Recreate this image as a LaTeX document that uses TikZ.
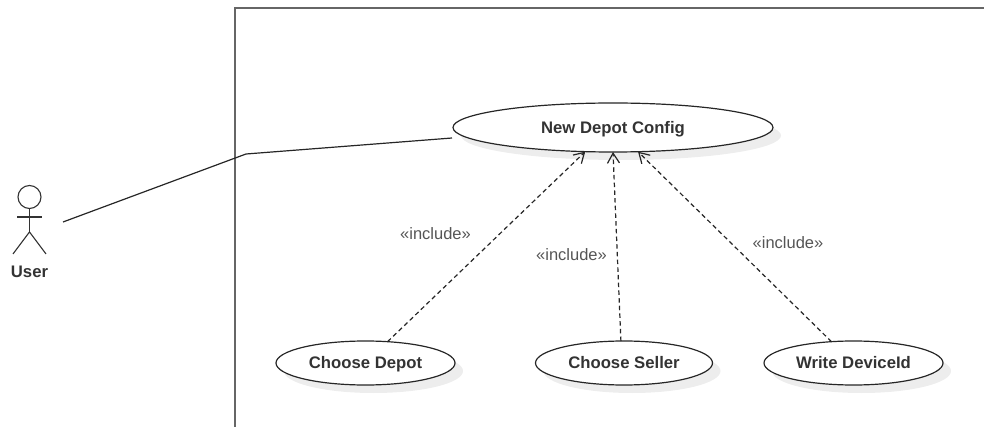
\documentclass[tikz,border=0pt]{standalone}
\usepackage{fontspec}
\setmainfont{Liberation Sans}
\usetikzlibrary{shapes.geometric,arrows.meta,shadows}
\definecolor{txt}{HTML}{333333}
\definecolor{lbl}{HTML}{555555}
\definecolor{shade}{HTML}{EDEDED}
\tikzset{
  usecase/.style={ellipse,draw=black!85,line width=1.2pt,fill=white,inner sep=0pt,outer sep=0pt,
    text=txt,font=\fontsize{16.7}{18}\selectfont\bfseries,text height=14pt,text depth=2.5pt,
    general shadow={shadow xshift=8pt,shadow yshift=-8pt,fill=shade,draw=none}},
  incl/.style={draw=black!85,line width=1.2pt,dash pattern=on 4.5pt off 3.2pt,
    -{Straight Barb[length=10pt,width=12pt,line width=1.2pt]}},
  assoc/.style={draw=black!85,line width=1.2pt},
  lab/.style={text=lbl,font=\fontsize{16.5}{18}\selectfont,inner sep=0pt},
  actorline/.style={draw=black!80,line width=1.1pt},
  frameline/.style={draw=black!60,line width=1.5pt}
}
\begin{document}
\begin{tikzpicture}[x=1pt,y=-1pt]
\useasboundingbox (0,0) rectangle (984,427);
\draw[frameline] (984,8) -- (235,8) -- (235,427);
\coordinate (bend) at (246,154);
\coordinate (actorhand) at (63,222);
\coordinate (assocend) at (452,138);
\node[usecase,minimum width=320pt,minimum height=49pt] (nd) at (613,127.5) {New Depot Config};
\node[usecase,minimum width=179pt,minimum height=44pt] (cd) at (365.5,363) {Choose Depot};
\node[usecase,minimum width=177pt,minimum height=44pt] (cs) at (624,363) {Choose Seller};
\node[usecase,minimum width=179pt,minimum height=44pt] (dw) at (853.5,363) {Write DeviceId};
\draw[assoc] (actorhand) -- (bend) -- (assocend);
\draw[incl] (cd.44) -- (nd.221);
\draw[incl] (cs.98) -- (nd.270);
\draw[incl] (dw.136) -- (nd.316);
\node[lab] (l1) at (435.5,234) {«include»};
\node[lab] (l2) at (571.5,255) {«include»};
\node[lab] (l3) at (788,243) {«include»};
\node[circle,draw=black!80,line width=1.1pt,minimum size=23pt,inner sep=0pt,outer sep=0pt] (head) at (29.5,197) {};
\coordinate (hip) at (29.5,232);
\coordinate (arml) at (17,217);
\coordinate (armr) at (42,217);
\coordinate (legl) at (13,254);
\coordinate (legr) at (46,254);
\draw[actorline] (head.south) -- (hip);
\draw[actorline] (arml) -- (armr);
\draw[actorline] (legl) -- (hip) -- (legr);
\node[text=txt,font=\fontsize{16.7}{18}\selectfont\bfseries,inner sep=0pt] (user) at (29.5,272) {User};
\end{tikzpicture}
\end{document}
